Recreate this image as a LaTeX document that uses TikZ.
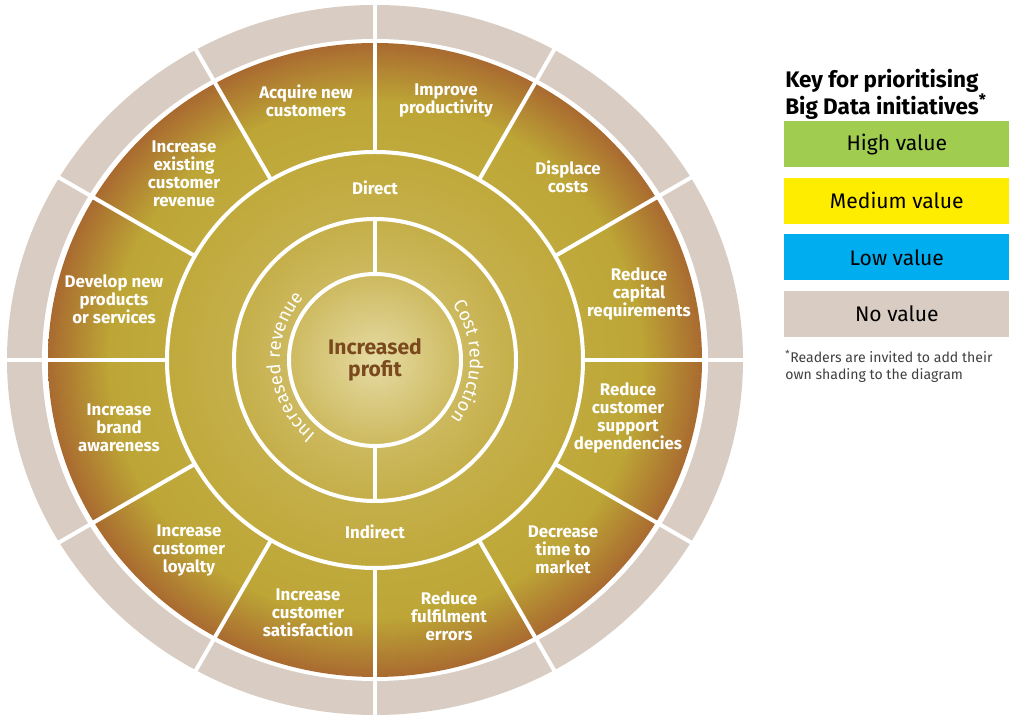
\documentclass[tikz,border=0pt]{standalone}
\usepackage{fontspec}
\setmainfont{Fira Sans}
\usetikzlibrary{positioning,decorations.text}

\definecolor{ringgray}{HTML}{D8CCC3}
\definecolor{wheelA}{HTML}{E6DBA3}
\definecolor{wheelB}{HTML}{CDBA60}
\definecolor{wheelC}{HTML}{C5AF4A}
\definecolor{wheelD}{HTML}{C0AA3D}
\definecolor{wheelE}{HTML}{BDA636}
\definecolor{wheelF}{HTML}{A96A30}
\definecolor{profitbrown}{HTML}{7A4A1E}
\definecolor{keygreen}{HTML}{A0CC50}
\definecolor{keyyellow}{HTML}{FFED00}
\definecolor{keyblue}{HTML}{00AEEF}

\pgfdeclareradialshading{wheel}{\pgfpoint{0bp}{0bp}}{%
    color(0bp)=(wheelA); color(6.6bp)=(wheelB); color(10.8bp)=(wheelC);
    color(15.9bp)=(wheelD); color(20.3bp)=(wheelE); color(25bp)=(wheelF);
    color(50bp)=(wheelF)}

\newcommand{\arcfont}{\fontsize{13}{15}\selectfont}

\begin{document}
\begin{tikzpicture}[x=0.025cm, y=0.025cm,
    gap/.style={white, line width=0.1cm},
    seglabel/.style={text=white, align=center, inner sep=0pt,
        font=\fontsize{12}{12.8}\selectfont\bfseries},
    keybox/.style={minimum width=5.625cm, minimum height=1.15cm, inner sep=0pt,
        font=\fontsize{15}{18}\selectfont, text=black}]

    \useasboundingbox (0,0) rectangle (1011,721);

    \begin{scope}[shift={(375,361)}]

        \fill[ringgray] (0,0) ellipse [x radius=368, y radius=355];
        \fill[white] (0,0) ellipse [x radius=333, y radius=321];
        \shade[shading=wheel] (0,0) ellipse [x radius=327, y radius=317];

        \foreach \r in {86,141,208}
            \draw[gap] (0,0) circle [radius=\r];
        \foreach \a in {0,30,...,330}
            \draw[gap] (\a:208) -- (\a:372);
        \draw[gap] (90:86) -- (90:141);
        \draw[gap] (270:86) -- (270:141);

        \foreach \x/\y/\t [count=\i] in {
            -69/259/{Acquire new\\customers},
            71/259/{Improve\\productivity},
            193/183/{Displace\\costs},
            264/66/{Reduce\\capital\\requirements},
            253/-58/{Reduce\\customer\\support\\dependencies},
            188/-190/{Decrease\\time to\\market},
            74/-256/{Reduce\\fulfilment\\errors},
            -67/-253/{Increase\\customer\\satisfaction},
            -186/-191/{Increase\\customer\\loyalty},
            -256/-68/{Increase\\brand\\awareness},
            -261/61/{Develop new\\products\\or services},
            -191/186/{Increase\\existing\\customer\\revenue}}
            \node[seglabel] (seg\i) at (\x,\y) {\t};

        \node[seglabel] (direct) at (0,172) {Direct};
        \node[seglabel] (indirect) at (0,-172) {Indirect};

        \path[decorate, decoration={text along path, text align=center,
            text color=white, text={|\arcfont|Increased revenue}}]
            (232:95) arc [start angle=232, end angle=138, radius=95];
        \path[decorate, decoration={text along path, text align=center,
            text color=white, text={|\arcfont|Cost reduction}}]
            (34:95) arc [start angle=34, end angle=-36, radius=95];

        \node[text=profitbrown, align=center, inner sep=0pt,
            font=\fontsize{15}{15.6}\selectfont\bfseries] (profit) at (0,0) {Increased\\profit};

    \end{scope}

    \node[anchor=north west, inner sep=0pt, align=left,
        font=\fontsize{16}{15.6}\selectfont\bfseries] (keytitle) at (785,652)
        {Key for prioritising\\Big Data initiatives\textsuperscript{*}};

    \node[keybox, fill=keygreen, anchor=north west] (high) at (784,600) {High value};
    \node[keybox, fill=keyyellow, below=0.25cm of high] (medium) {Medium value};
    \node[keybox, fill=keyblue, below=0.25cm of medium] (low) {Low value};
    \node[keybox, fill=ringgray, below=0.25cm of low] (none) {No value};

    \node[anchor=north west, inner sep=0pt, align=left, text=black!75,
        font=\fontsize{10}{12}\selectfont] (note) at (785,371)
        {\textsuperscript{*}Readers are invited to add their\\own shading to the diagram};

\end{tikzpicture}
\end{document}
